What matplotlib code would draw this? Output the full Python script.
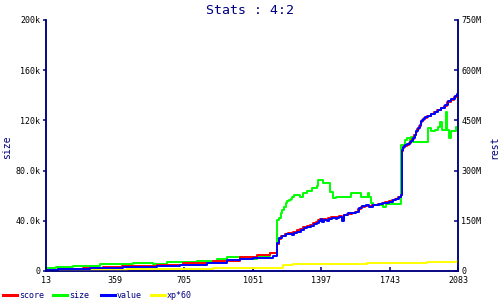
import matplotlib
matplotlib.use("Agg")
import matplotlib.pyplot as plt
from matplotlib.lines import Line2D

# ---- data ----
title = "Stats : 4:2"
x_ticks = [13, 359, 705, 1051, 1397, 1743, 2083]
left_ticks = [0, 40000, 80000, 120000, 160000, 200000]
left_tick_labels = ["0", "40.0k", "80.0k", "120k", "160k", "200k"]
right_ticks = [0, 150e6, 300e6, 450e6, 600e6, 750e6]
right_tick_labels = ["0", "150M", "300M", "450M", "600M", "750M"]

# value (right axis, millions)
value_x = [13, 73, 234, 400, 571, 686, 822, 922, 988, 1053, 1153, 1175,
           1184, 1200, 1217, 1234, 1250, 1259, 1276, 1293, 1309, 1326,
           1343, 1359, 1376, 1385, 1393, 1401, 1410, 1426, 1435, 1451,
           1468, 1476, 1487, 1500, 1512, 1529, 1554, 1570, 1587, 1601,
           1621, 1637, 1654, 1687, 1705, 1721, 1738, 1755, 1771, 1788, 1797,
           1800, 1807, 1815, 1828, 1840, 1848, 1857, 1865, 1873, 1882,
           1890, 1899, 1907, 1915, 1932, 1949, 1966, 1982, 1999, 2016,
           2033, 2049, 2066, 2079, 2083]
value_m = [3, 5, 8, 11, 15, 18, 25, 33, 37, 40, 45, 83,
           99, 105, 110, 111, 108, 113, 117, 122, 128, 131,
           134, 140, 144, 149, 154, 147, 152, 149, 154, 157,
           155, 159, 162, 150, 167, 172, 174, 177, 187, 194,
           197, 192, 197, 200, 202, 204, 207, 212, 214, 220, 227,
           362, 370, 376, 379, 385, 389, 397, 407, 419, 427,
           437, 447, 454, 459, 464, 469, 475, 481, 487, 495,
           507, 514, 522, 529, 529]

# score (right axis, millions)
score_x = [13, 73, 199, 299, 395, 571, 701, 852, 988, 1073, 1138, 1175,
           1182, 1196, 1213, 1230, 1246, 1255, 1272, 1289, 1305, 1322,
           1339, 1355, 1372, 1381, 1389, 1401, 1406, 1422, 1431, 1447,
           1464, 1472, 1483, 1500, 1508, 1525, 1550, 1566, 1583, 1597,
           1617, 1637, 1650, 1683, 1701, 1717, 1734, 1751, 1767, 1784, 1797,
           1800, 1805, 1812, 1825, 1837, 1845, 1854, 1862, 1870, 1879,
           1887, 1896, 1904, 1912, 1929, 1946, 1963, 1979, 1996, 2013,
           2030, 2046, 2063, 2076, 2083]
score_m = [3, 5, 8, 11, 15, 18, 23, 30, 41, 48, 53, 80,
           96, 104, 112, 115, 113, 117, 121, 126, 131, 134,
           138, 143, 147, 152, 156, 150, 155, 152, 157, 160,
           158, 161, 165, 155, 168, 171, 172, 175, 185, 192,
           195, 193, 196, 199, 203, 206, 209, 213, 216, 221, 226,
           358, 366, 372, 377, 383, 388, 395, 405, 416, 424,
           434, 444, 451, 457, 463, 468, 474, 480, 486, 494,
           504, 512, 520, 527, 527]

# size (left axis, thousands)
size_x = [13, 63, 149, 284, 450, 552, 619, 770, 871, 921, 1046, 1072, 1138,
          1175, 1184, 1192, 1200, 1209, 1217, 1225, 1234, 1242, 1250, 1259,
          1289, 1306, 1323, 1348, 1373, 1381, 1406, 1440, 1456, 1470,
          1545, 1596, 1629, 1637, 1646, 1654, 1705, 1721,
          1798, 1815, 1828, 1840, 1848, 1856, 1932, 1949, 1966, 1982,
          1993, 2004, 2021, 2029, 2038, 2049, 2074, 2083]
size_k = [2.4, 3.4, 4.0, 5.3, 6.1, 5.3, 6.9, 8.2, 9.6, 11.4, 9.6, 12.2, 14.1,
          40.6, 42.0, 46.0, 48.6, 51.2, 53.9, 55.8, 56.6, 57.4, 59.2, 60.6,
          58.7, 61.9, 64.0, 65.9, 67.7, 72.5, 69.9, 63.2, 57.9, 59.2,
          61.9, 58.7, 62.4, 59.2, 53.9, 52.6, 51.2, 53.4,
          100.0, 104.0, 106.0, 103.5, 106.5, 103.0, 114.0, 111.8, 112.5, 114.4,
          119.0, 112.5, 126.9, 112.5, 105.7, 111.8, 114.4, 111.8]

# xp*60 (right axis, millions)
xp_x = [13, 420, 852, 1204, 1254, 1626, 1927, 2078, 2083]
xp_m = [3, 6, 10, 18, 20, 23, 26, 30, 30]

series_names = ["score", "size", "value", "xp*60"]
series_colors = ["#ff0000", "#00ff00", "#0000ff", "#ffff00"]

NAVY = "#000080"

fig = plt.figure(figsize=(5, 3), dpi=100)
ax = fig.add_axes([0.092, 0.0967, 0.824, 0.8367])
ax2 = ax.twinx()

lw = 1.4
ax2.plot(xp_x, [v * 1e6 for v in xp_m], color=series_colors[3], lw=lw, drawstyle="steps-post")
ax.plot(size_x, [v * 1e3 for v in size_k], color=series_colors[1], lw=lw, drawstyle="steps-post")
ax2.plot(score_x, [v * 1e6 for v in score_m], color=series_colors[0], lw=lw, drawstyle="steps-post")
ax2.plot(value_x, [v * 1e6 for v in value_m], color=series_colors[2], lw=lw, drawstyle="steps-post")

ax.set_xlim(x_ticks[0], x_ticks[-1])
ax.set_ylim(left_ticks[0], left_ticks[-1])
ax2.set_ylim(right_ticks[0], right_ticks[-1])

mono = "DejaVu Sans Mono"
ax.set_xticks(x_ticks)
ax.set_xticklabels([str(t) for t in x_ticks], fontsize=6, family=mono)
ax.set_yticks(left_ticks)
ax.set_yticklabels(left_tick_labels, fontsize=6, family=mono)
ax2.set_yticks(right_ticks)
ax2.set_yticklabels(right_tick_labels, fontsize=6, family=mono)

for a in (ax, ax2):
    a.spines["top"].set_visible(False)
    for s in ("left", "right", "bottom"):
        a.spines[s].set_color(NAVY)
        a.spines[s].set_linewidth(1.1)

ax.tick_params(axis="x", direction="in", length=3, width=1.1, color=NAVY, pad=3.5)
ax.tick_params(axis="y", direction="out", length=2.5, width=1.1, color=NAVY, pad=1.5)
ax2.tick_params(axis="y", direction="in", length=3, width=1.1, color=NAVY, pad=2.5)

fig.text(0.5, 0.965, title, ha="center", va="center", color=NAVY, fontsize=9.5, family=mono)
fig.text(0.015, 0.51, "size", rotation=90, ha="center", va="center", color=NAVY, fontsize=7, family=mono)
fig.text(0.988, 0.51, "rest", rotation=90, ha="center", va="center", color=NAVY, fontsize=7, family=mono)

# legend
leg_y = 1 - 295 / 300
line_starts = [3, 53, 101, 151]
for name, col, px in zip(series_names, series_colors, line_starts):
    fig.add_artist(Line2D([px / 500, (px + 14) / 500], [leg_y, leg_y], color=col, lw=2.2,
                          transform=fig.transFigure))
    fig.text((px + 16) / 500, leg_y, name, ha="left", va="center", color=NAVY, fontsize=6, family=mono)

fig.savefig("out.png", dpi=100, facecolor="white")
